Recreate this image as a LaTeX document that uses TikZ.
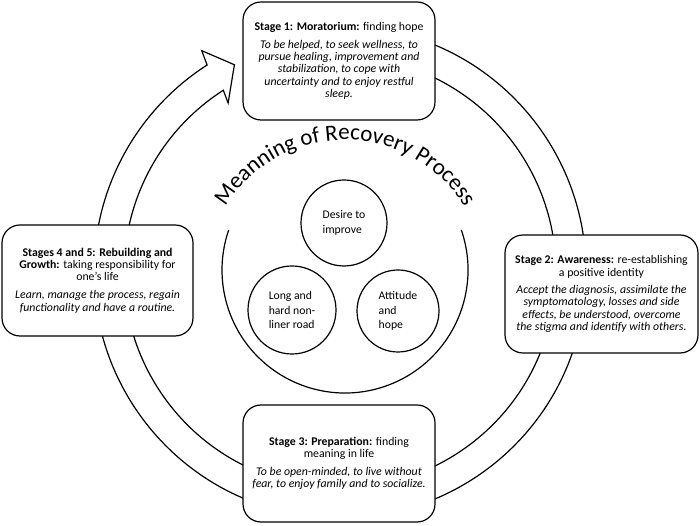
\documentclass[tikz,border=0pt]{standalone}
\usepackage{fontspec}
\setmainfont{Carlito}
\usetikzlibrary{calc,decorations.text}
\begin{document}
\begin{tikzpicture}[x=1pt,y=1pt,
  stagebox/.style={draw,fill=white,line width=1.2pt,rounded corners=18pt,align=center,
    font=\fontsize{11.8}{12.3}\selectfont,inner sep=0pt},
  factor/.style={draw,circle,line width=1.2pt,align=left,inner sep=0pt,
    font=\fontsize{11.7}{14.2}\selectfont},
  band/.style={draw,fill=white,line width=1.2pt,line join=miter}]
\path[fill=white,use as bounding box] (0,0) rectangle (700,526);

% circular arrow round the four stages
\coordinate (ringc) at (340,254);
\begin{scope}[shift={(ringc)}]
\path[band] (80:246) arc[start angle=80, end angle=-237.3, radius=246pt]
  -- (122:261) -- (117:232.6) -- (123.5:202.7)
  -- (122.7:216) arc[start angle=-237.3, end angle=80, radius=216pt] -- cycle;
\end{scope}

% inner circle with its title
\coordinate (innerc) at (345,256);
\coordinate (titlec) at (345,246);
\draw[line width=1.2pt] ($(innerc)+(19:123)$) arc[start angle=19, end angle=-199, radius=123pt];
\path[decorate,decoration={text along path,text align=center,
  text={|\fontsize{23}{23}\selectfont|Meanning of Recovery Process}}]
  ($(titlec)+(165:140)$) arc[start angle=165, end angle=15, radius=140pt];

\node[factor,minimum size=86pt] (desire) at (344,303) {Desire to\\improve};
\node[factor,minimum size=88pt] (road) at (292,216) {Long and\\hard non-\\liner road};
\node[factor,minimum size=82pt] (attitude) at (398,215) {Attitude\\and\\hope};

% stages
\node[stagebox,minimum width=192pt,minimum height=118pt] (stage1) at (339,465)
  {\textbf{Stage 1: Moratorium:} finding hope\\[5pt]
   \itshape To be helped, to seek wellness, to\\
   \itshape pursue healing, improvement and\\
   \itshape stabilization, to cope with\\
   \itshape uncertainty and to enjoy restful\\
   \itshape sleep.};
\node[stagebox,minimum width=193pt,minimum height=118pt] (stage2) at (601.5,232)
  {\textbf{Stage 2: Awareness:} re-establishing\\
   a positive identity\\[5pt]
   \itshape Accept the diagnosis, assimilate the\\
   \itshape symptomatology, losses and side\\
   \itshape effects, be understood, overcome\\
   \itshape the stigma and identify with others.};
\node[stagebox,minimum width=192pt,minimum height=117pt] (stage3) at (339,62.5)
  {\textbf{Stage 3: Preparation:} finding\\
   meaning in life\\[5pt]
   \itshape To be open-minded, to live without\\
   \itshape fear, to enjoy family and to socialize.};
\node[stagebox,minimum width=191pt,minimum height=111pt] (stage45) at (97.5,245.5)
  {\textbf{Stages 4 and 5: Rebuilding and}\\
   \textbf{Growth:} taking responsibility for\\
   one’s life\\[6pt]
   \itshape Learn, manage the process, regain\\
   \itshape functionality and have a routine.};
\end{tikzpicture}
\end{document}
